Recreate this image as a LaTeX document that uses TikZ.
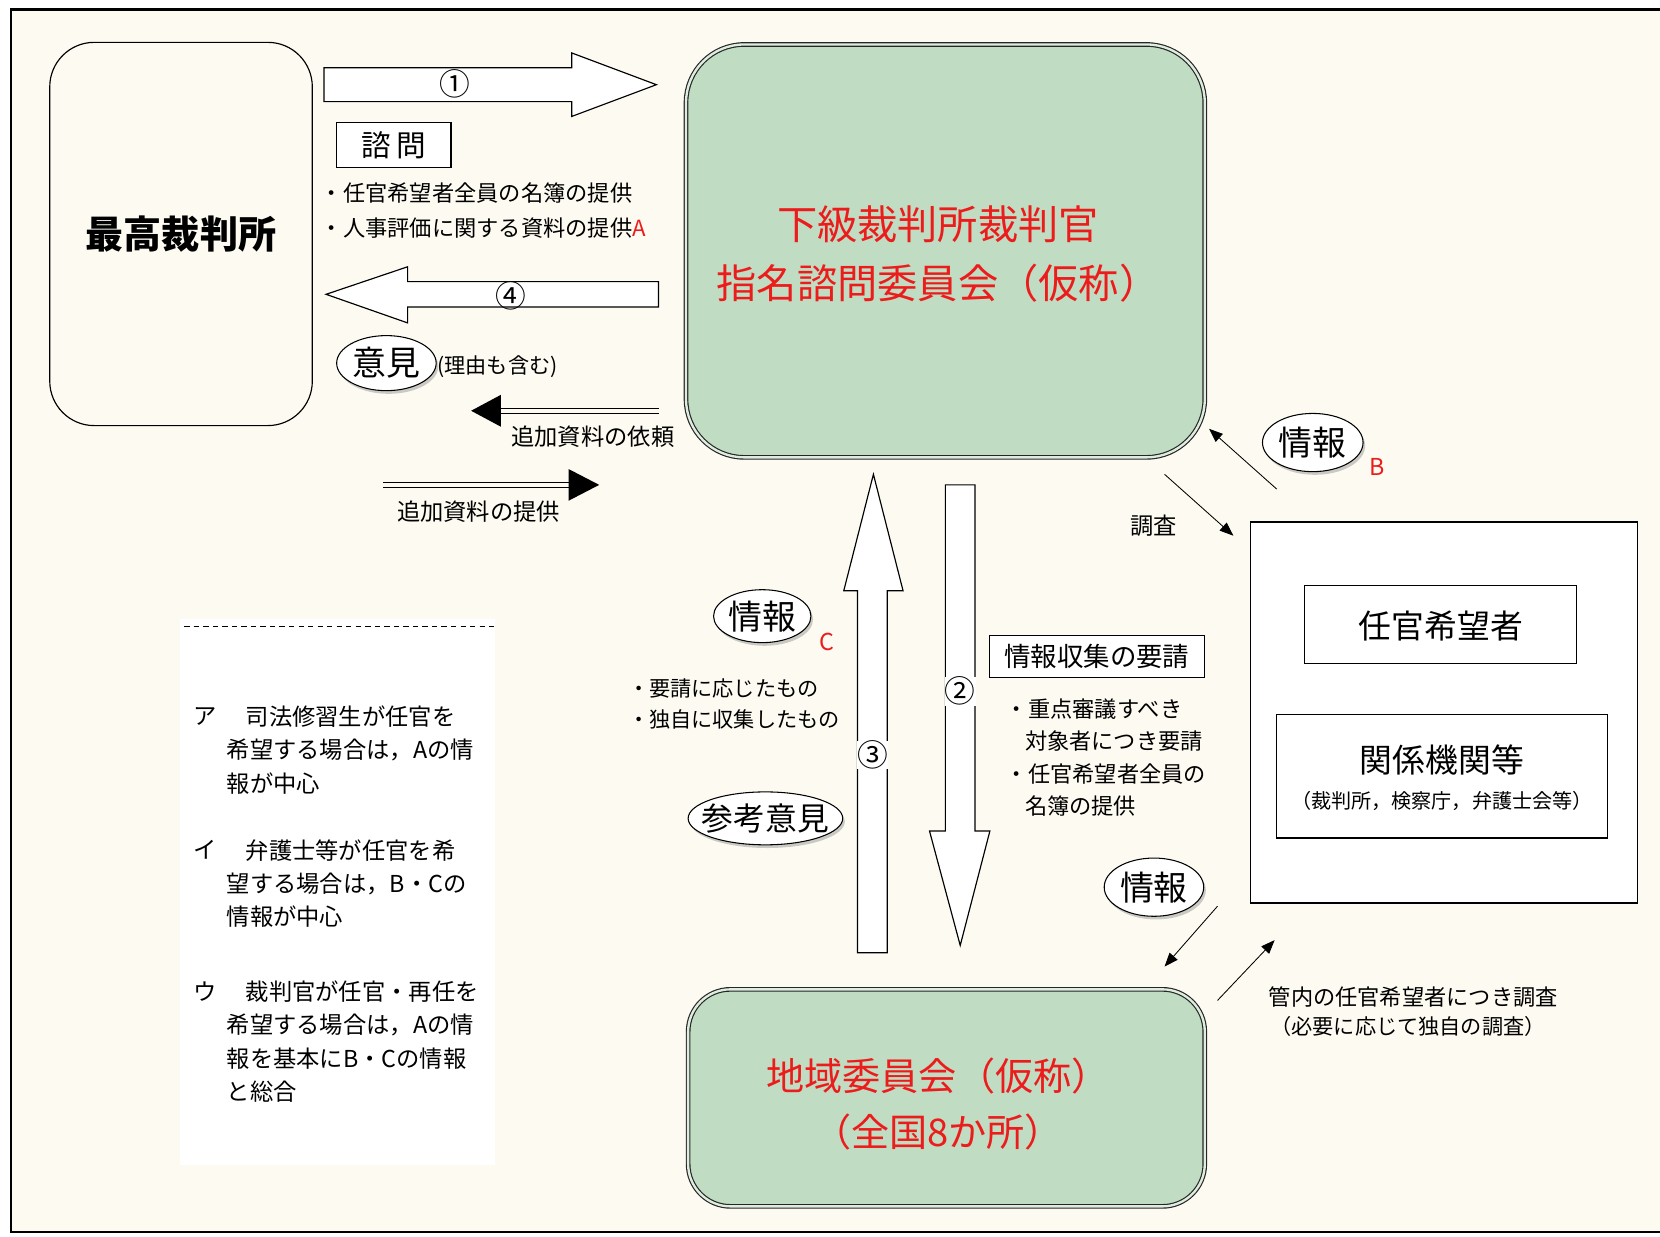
\documentclass[tikz,border=0pt]{standalone}
\usepackage{fontspec}
\setmainfont{Noto Sans CJK JP}
\usetikzlibrary{arrows.meta,shapes.geometric,shadows,calc}
\definecolor{cream}{RGB}{253,251,241}
\definecolor{boxgreen}{RGB}{192,220,194}
\definecolor{jred}{RGB}{236,28,28}
\newcommand{\fsz}[2]{\fontsize{#1}{#2}\selectfont}
\tikzset{
  greenbox/.style={draw=black!85, line width=1.1pt, double=boxgreen!50!white, double distance=2.2pt, fill=boxgreen, rounded corners=55pt},
  plainbox/.style={draw, line width=1.1pt, fill=white},
  blockarrow/.style={draw, line width=1.1pt, fill=white, line join=miter},
  ell/.style={ellipse, draw, line width=1pt, fill=white, inner sep=0pt, drop shadow={shadow xshift=2pt, shadow yshift=-3pt, fill=black!40}},
  thinarr/.style={line width=0.8pt, -{Triangle[length=13pt,width=10pt]}},
  dblline/.style={line width=1pt, double=cream, double distance=3.5pt},
  headtri/.style={fill=black},
  txt/.style={inner sep=0pt, anchor=west},
  ctxt/.style={inner sep=0pt},
  numlbl/.style={inner sep=0pt, font=\fsz{29}{30}},
}
\begin{document}
\begin{tikzpicture}[x=1pt,y=-1pt]
\useasboundingbox (0,0) rectangle (1568,1168);
\fill[white] (0,0) rectangle (1568,1168);
\draw[line width=2pt, fill=cream] (10,9) rectangle (1580,1164);

% legend white panel
\fill[white] (170,585) rectangle (468,1100);
\draw[dashed, line width=0.9pt, dash pattern=on 5pt off 4pt] (174,592) -- (470,592);

% main boxes
\node[draw, line width=1.1pt, fill=cream, rounded corners=42pt, minimum width=248pt, minimum height=362pt] (sc) at (171,221) {};
\node[ctxt, font=\fsz{36}{40}\bfseries] (sct) at (171,221) {最高裁判所};

\node[greenbox, minimum width=490pt, minimum height=390pt] (main) at (893,237) {};
\node[ctxt, text=jred, align=center, font=\fsz{38}{55}] (maint) at (886,240) {下級裁判所裁判官\\指名諮問委員会（仮称）};

\node[greenbox, minimum width=488pt, minimum height=205pt, rounded corners=40pt] (reg) at (894,1037) {};
\node[ctxt, text=jred, align=center, font=\fsz{36}{53}] (regt) at (886,1043) {地域委員会（仮称）\\（全国8か所）};

\node[plainbox, minimum width=365pt, minimum height=360pt] (rb) at (1364,673) {};
\node[plainbox, minimum width=257pt, minimum height=74pt] (cand) at (1361,590) {};
\node[ctxt, font=\fsz{31}{34}] (candt) at (1361,591) {任官希望者};
\node[plainbox, minimum width=312pt, minimum height=117pt] (rel) at (1362,733) {};
\node[ctxt, font=\fsz{31}{34}] (relt) at (1362,718) {関係機関等};
\node[ctxt, font=\fsz{19}{22}] (relt2) at (1362,757) {（裁判所，検察庁，弁護士会等）};

% block arrow 1 (right)
\draw[blockarrow] (306,64) -- (540,64) -- (540,50) -- (620,80) -- (540,110) -- (540,96) -- (306,96) -- cycle;
\node[numlbl] (n1) at (430,79) {①};
% block arrow 4 (left)
\draw[blockarrow] (622,266) -- (385,266) -- (385,252) -- (308,278) -- (385,305) -- (385,290) -- (622,290) -- cycle;
\node[numlbl] (n4) at (483,279) {④};
% block arrow 3 (up)
\draw[blockarrow] (810,900) -- (810,558) -- (797,558) -- (825,448) -- (853,558) -- (838,558) -- (838,900) -- cycle;
\node[numlbl, fill=white] (n3) at (824,713) {③};
% block arrow 2 (down)
\draw[blockarrow] (893,458) -- (921,458) -- (921,785) -- (935,785) -- (907,893) -- (878,785) -- (893,785) -- cycle;
\node[numlbl, fill=white] (n2) at (907,653) {②};

% 諮問
\node[plainbox, minimum width=108pt, minimum height=42pt, font=\fsz{28}{30}] (shimon) at (372,137) {諮\,問};
\node[txt, font=\fsz{21}{24}] (b1) at (303,182) {・任官希望者全員の名簿の提供};
\node[txt, font=\fsz{21}{24}] (b2) at (303,215) {・人事評価に関する資料の提供\textcolor{jred}{A}};

% 意見
\node[ell, minimum width=94pt, minimum height=52pt] (iken) at (365,343) {};
\node[ctxt, font=\fsz{32}{34}] (ikent) at (iken.center) {意見};
\node[txt, font=\fsz{20}{22}] (riyu) at (413,346) {(理由も含む)};

% double-line arrows
\coordinate (d1s) at (622,388);
\coordinate (d1e) at (472,388);
\draw[dblline] (d1s) -- (d1e);
\fill[headtri] (445,388) -- (473,373) -- (473,403) -- cycle;
\node[ctxt, font=\fsz{22}{24}] (irai) at (560,412) {追加資料の依頼};
\coordinate (d2s) at (362,458);
\coordinate (d2e) at (538,458);
\draw[dblline] (d2s) -- (d2e);
\fill[headtri] (566,458) -- (537,443) -- (537,473) -- cycle;
\node[ctxt, font=\fsz{22}{24}] (teikyo) at (452,483) {追加資料の提供};

% info B
\node[ell, minimum width=95pt, minimum height=55pt] (infoB) at (1240,418) {};
\node[ctxt, font=\fsz{32}{34}] (infoBt) at (infoB.center) {情報};
\node[ctxt, text=jred, font=\fsz{22}{24}] (lB) at (1301,441) {B};
\coordinate (aB1s) at (1206,462);
\coordinate (aB1e) at (1142,405);
\draw[thinarr] (aB1s) -- (aB1e);
\coordinate (aB2s) at (1100,448);
\coordinate (aB2e) at (1165,506);
\draw[thinarr] (aB2s) -- (aB2e);
\node[ctxt, font=\fsz{22}{24}] (chosa) at (1090,497) {調査};

% info C
\node[ell, minimum width=92pt, minimum height=50pt] (infoC) at (720,582) {};
\node[ctxt, font=\fsz{32}{34}] (infoCt) at (infoC.center) {情報};
\node[ctxt, text=jred, font=\fsz{22}{24}] (lC) at (781,606) {C};
\node[txt, font=\fsz{20}{23}] (c1) at (593,650) {・要請に応じたもの};
\node[txt, font=\fsz{20}{23}] (c2) at (593,680) {・独自に収集したもの};
\node[ell, minimum width=146pt, minimum height=50pt] (sanko) at (723,773) {};
\node[ctxt, font=\fsz{30}{32}] (sankot) at (sanko.center) {参考意見};

% request
\node[plainbox, minimum width=203pt, minimum height=40pt, font=\fsz{25}{27}] (yosei) at (1036,620) {情報収集の要請};
\node[txt, font=\fsz{21}{24}] (r1) at (950,670) {・重点審議すべき};
\node[txt, font=\fsz{21}{24}] (r2) at (968,700) {対象者につき要請};
\node[txt, font=\fsz{21}{24}] (r3) at (950,731) {・任官希望者全員の};
\node[txt, font=\fsz{21}{24}] (r4) at (968,761) {名簿の提供};

% lower info
\node[ell, minimum width=94pt, minimum height=55pt] (infoL) at (1090,838) {};
\node[ctxt, font=\fsz{32}{34}] (infoLt) at (infoL.center) {情報};
\coordinate (aL1s) at (1150,856);
\coordinate (aL1e) at (1100,913);
\draw[thinarr] (aL1s) -- (aL1e);
\coordinate (aL2s) at (1150,945);
\coordinate (aL2e) at (1204,888);
\draw[thinarr] (aL2s) -- (aL2e);
\node[ctxt, font=\fsz{21}{24}] (kan1) at (1335,942) {管内の任官希望者につき調査};
\node[ctxt, font=\fsz{20}{24}] (kan2) at (1330,970) {（必要に応じて独自の調査）};

% legend
\begin{scope}[every node/.style={txt, font=\fsz{22}{24}}]
\node (la) at (183,677) {ア};
\node (la1) at (232,677) {司法修習生が任官を};
\node (la2) at (214,708) {希望する場合は，Aの情};
\node (la3) at (214,740) {報が中心};
\node (li) at (183,803) {イ};
\node (li1) at (232,803) {弁護士等が任官を希};
\node (li2) at (214,835) {望する場合は，B・Cの};
\node (li3) at (214,866) {情報が中心};
\node (lu) at (183,937) {ウ};
\node (lu1) at (232,937) {裁判官が任官・再任を};
\node (lu2) at (214,968) {希望する場合は，Aの情};
\node (lu3) at (214,1000) {報を基本にB・Cの情報};
\node (lu4) at (214,1031) {と総合};
\end{scope}
\end{tikzpicture}
\end{document}
